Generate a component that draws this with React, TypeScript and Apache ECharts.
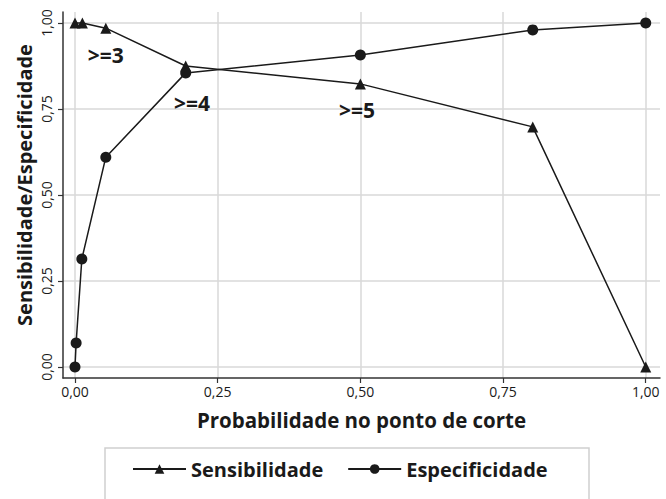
import React, { useEffect, useRef } from "react";
import * as echarts from "echarts";

const tickValues = [0, 0.25, 0.5, 0.75, 1];
const sensX = [0.0, 0.013, 0.054, 0.194, 0.5, 0.802, 1.0];
const sensY = [1.0, 1.0, 0.985, 0.875, 0.823, 0.698, 0.0];
const specX = [0.0, 0.002, 0.012, 0.054, 0.194, 0.5, 0.802, 1.0];
const specY = [0.0, 0.07, 0.314, 0.61, 0.855, 0.907, 0.98, 1.0];
const cutLabels = [">=3", ">=4", ">=5"];
const cutLabelX = [0.054, 0.205, 0.494];
const cutLabelY = [0.907, 0.767, 0.747];

const FONT = "'Open Sans', 'Noto Sans', sans-serif";
const fmt = (v: number) => v.toFixed(2).replace(".", ",");

export default function App() {
  const ref = useRef<HTMLDivElement>(null);
  useEffect(() => {
    const chart = echarts.init(ref.current!, null, { renderer: "svg" });
    const ink = "#1a1a1a";
    chart.setOption({
      animation: false,
      textStyle: { fontFamily: FONT },
      grid: { left: 63, top: 12, right: 6, bottom: 121, containLabel: false },
      xAxis: {
        type: "value",
        min: -0.021,
        max: 1.025,
        name: "Probabilidade no ponto de corte",
        nameLocation: "middle",
        nameGap: 31,
        nameTextStyle: { fontFamily: FONT, fontWeight: "bold", fontSize: 20.5, color: ink },
        axisLine: { show: true, onZero: false, lineStyle: { color: "#333", width: 1.5 } },
        axisTick: { show: true, length: 5, customValues: tickValues, lineStyle: { color: "#333", width: 1.2 } },
        axisLabel: { customValues: tickValues, formatter: fmt, fontSize: 14, color: ink, margin: 6, fontFamily: FONT },
        splitLine: { show: true, lineStyle: { color: "#d9d9d9", width: 1.5 } },
      },
      yAxis: {
        type: "value",
        min: -0.032,
        max: 1.032,
        axisLine: { show: true, onZero: false, lineStyle: { color: "#333", width: 1.5 } },
        axisTick: { show: true, length: 5, customValues: tickValues, lineStyle: { color: "#333", width: 1.2 } },
        axisLabel: { customValues: tickValues, formatter: fmt, fontSize: 14, color: ink, margin: 10, rotate: 90, fontFamily: FONT },
        splitLine: { show: true, lineStyle: { color: "#d9d9d9", width: 1.5 } },
      },
      legend: {
        data: ["Sensibilidade", "Especificidade"],
        left: 127,
        top: 454,
        itemWidth: 53,
        itemHeight: 12,
        itemGap: 24,
        textStyle: { fontFamily: FONT, fontWeight: "bold", fontSize: 20, color: ink },
      },
      graphic: [
        {
          type: "rect",
          shape: { x: 105, y: 448, width: 484, height: 70 },
          style: { fill: "none", stroke: "#d0d0d0", lineWidth: 1.5 },
          silent: true,
        },
        {
          type: "text",
          x: 24,
          y: 185,
          rotation: Math.PI / 2,
          style: {
            text: "Sensibilidade/Especificidade",
            fontFamily: FONT,
            fontWeight: "bold",
            fontSize: 20,
            fill: ink,
            align: "center",
            verticalAlign: "middle",
          },
          silent: true,
        },
      ],
      series: [
        {
          name: "Sensibilidade",
          type: "line",
          data: sensX.map((x, i) => [x, sensY[i]]),
          symbol: "triangle",
          symbolSize: 11,
          showAllSymbol: true,
          itemStyle: { color: ink },
          lineStyle: { color: ink, width: 1.5 },
        },
        {
          name: "Especificidade",
          type: "line",
          data: specX.map((x, i) => [x, specY[i]]),
          symbol: "circle",
          symbolSize: 11,
          showAllSymbol: true,
          itemStyle: { color: ink },
          lineStyle: { color: ink, width: 1.5 },
        },
        {
          name: "cortes",
          type: "scatter",
          symbolSize: 1,
          itemStyle: { color: "transparent", opacity: 1 },
          data: cutLabels.map((t, i) => ({ name: t, value: [cutLabelX[i], cutLabelY[i]] })),
          label: {
            show: true,
            position: "inside",
            formatter: (p: any) => p.name,
            fontFamily: FONT,
            fontWeight: "bold",
            fontSize: 21,
            color: ink,
            opacity: 1,
            textBorderWidth: 0,
          },
          silent: true,
        },
      ],
    });
    return () => chart.dispose();
  }, []);
  return <div ref={ref} style={{ width: 666, height: 499, position: "absolute", left: 0, top: 0 }} />;
}
